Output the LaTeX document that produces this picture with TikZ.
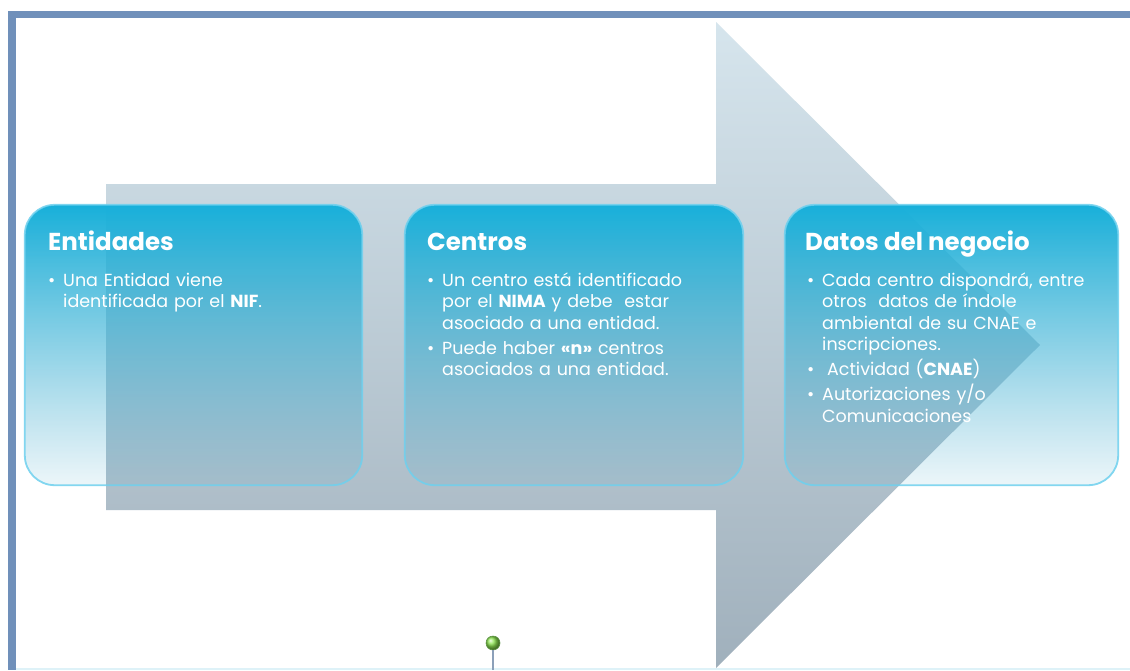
\documentclass[tikz,border=0pt]{standalone}
\usepackage{fontspec}
\setmainfont{Poppins}
\usetikzlibrary{fadings}
\definecolor{frameblue}{RGB}{112,144,186}
\definecolor{boxtop}{RGB}{24,176,218}
\definecolor{boxbot}{RGB}{70,170,204}
\definecolor{boxrim}{RGB}{110,208,238}
\definecolor{arrtop}{RGB}{214,229,237}
\definecolor{arrbot}{RGB}{160,176,188}
\definecolor{dotgreen}{RGB}{140,228,80}
\definecolor{dotrim}{RGB}{95,150,70}
\definecolor{stemcol}{RGB}{140,160,185}
\definecolor{edgecol}{RGB}{222,242,248}
\tikzfading[name=boxfade, top color=transparent!0, middle color=transparent!6, bottom color=transparent!90]
\newcommand\nl{\hfil\break}
\newcommand\bitem[2][0pt]{\hangindent=15pt\hangafter=1\noindent\makebox[15pt][l]{\textbullet}\hspace{#1}#2\par}
\begin{document}
\begin{tikzpicture}[x=1pt,y=-1pt,
  panel/.style={rounded corners=30pt, minimum width=#1, minimum height=280pt, inner sep=0pt,
    top color=boxtop, bottom color=boxbot, path fading=boxfade},
  rim/.style={draw=boxrim, line width=1.8pt, rounded corners=30pt, draw opacity=0.85},
  ttl/.style={anchor=base west, inner sep=0pt, text=white, font=\fontsize{24.5}{24.5}\selectfont\bfseries},
  txt/.style={anchor=base west, inner sep=0pt, text=white, text width=320pt, align=left,
    font=\fontsize{17.5}{21.5}\selectfont}]
\useasboundingbox (0,0) rectangle (1130,670);
\fill[white] (0,0) rectangle (1130,670);
% frame
\fill[frameblue] (8,11) rectangle (1130,18);
\fill[frameblue] (8,11) rectangle (16,670);
\draw[edgecol, line width=2pt] (16,669) -- (1130,669);
% arrow
\shade[top color=arrtop, bottom color=arrbot]
  (106,184) -- (716,184) -- (716,22) -- (1040,345) -- (716,668) -- (716,510) -- (106,510) -- cycle;
% panels
\node[panel=337pt] (p1) at (193.5,345) {};
\node[panel=338pt] (p2) at (574,345) {};
\node[panel=333pt] (p3) at (951.5,345) {};
\foreach \p in {p1,p2,p3} \draw[rim] (\p.north west) rectangle (\p.south east);
% titles
\node[ttl] (t1) at (48,250) {Entidades};
\node[ttl] (t2) at (427,250) {Centros};
\node[ttl] (t3) at (805,250) {Datos del negocio};
% bodies
\node[txt] (b1) at (48,286) {\setlength\parskip{3.5pt}%
  \bitem{Una Entidad viene\nl identificada por el \textbf{NIF}.}};
\node[txt] (b2) at (427,286) {\setlength\parskip{3.5pt}%
  \bitem{Un centro está identificado\nl por el \textbf{NIMA} y debe\ \ estar\nl asociado a una entidad.}%
  \bitem{Puede haber \textbf{«n»} centros\nl asociados a una entidad.}};
\node[txt] (b3) at (807,286) {\setlength\parskip{3.5pt}%
  \bitem{Cada centro dispondrá, entre\nl otros\ \ datos de índole\nl ambiental de su CNAE e\nl inscripciones.}%
  \bitem[5pt]{Actividad (\textbf{CNAE})}%
  \bitem{Autorizaciones y/o\nl Comunicaciones}};
% green handle
\node[circle, minimum size=14pt, inner sep=0pt, ball color=dotgreen, draw=dotrim, line width=0.6pt] (dot) at (493,643) {};
\coordinate (stemend) at (493,670);
\draw[stemcol, line width=1.5pt] (dot.south) -- (stemend);
\end{tikzpicture}
\end{document}
